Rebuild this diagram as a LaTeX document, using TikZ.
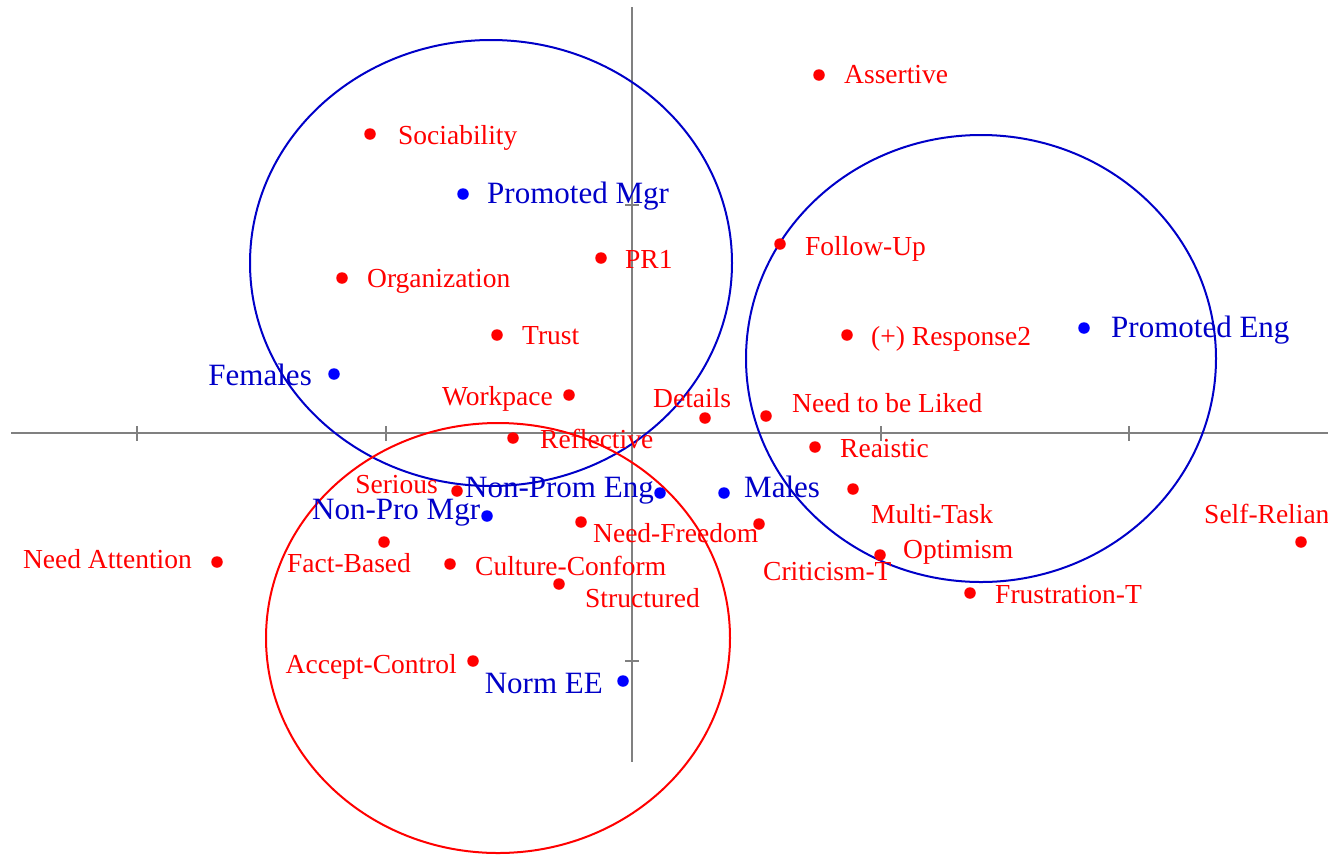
\documentclass[tikz,border=0pt]{standalone}
\usepackage{fontspec}
\setmainfont{Liberation Serif}
\definecolor{ptred}{RGB}{255,0,0}
\definecolor{ptblue}{RGB}{0,0,255}
\definecolor{txblue}{RGB}{0,0,200}
\definecolor{ringblue}{RGB}{0,0,200}
\definecolor{axisgray}{RGB}{128,128,128}
\newcommand\labred{\fontsize{27.5}{31}\selectfont}
\newcommand\labblue{\fontsize{31}{35}\selectfont}
\tikzset{
  rdot/.style={circle, fill=ptred, inner sep=0pt, minimum size=11.5pt},
  bdot/.style={circle, fill=ptblue, inner sep=0pt, minimum size=11.5pt},
  rlab/.style={text=ptred, font=\labred, inner sep=0pt, anchor=base west},
  blab/.style={text=txblue, font=\labblue, inner sep=0pt, anchor=base west},
  axisline/.style={draw=axisgray, line width=2.5pt},
  ring/.style={line width=2pt},
}
\begin{document}
\begin{tikzpicture}[x=1pt, y=-1pt]
\useasboundingbox (0,0) rectangle (1328,855);
\clip (0,0) rectangle (1328,855);

% axes with tick marks
\coordinate (xl) at (11,433);
\coordinate (xr) at (1328,433);
\coordinate (yt) at (632,7);
\coordinate (yb) at (632,762);
\draw[axisline] (xl) -- (xr);
\draw[axisline] (yt) -- (yb);
\foreach \tx in {137,386,881,1129}
  \draw[axisline] (\tx,426) -- (\tx,441);
\foreach \ty in {205,661}
  \draw[axisline] (625,\ty) -- (639,\ty);

% cluster rings
\draw[ring, draw=ringblue] (491,263) ellipse [x radius=241, y radius=223];
\draw[ring, draw=ringblue] (981,358.5) ellipse [x radius=235, y radius=223.5];
\draw[ring, draw=ptred] (498,638) ellipse [x radius=232, y radius=215];

% attribute points
\node[rdot] (assertive) at (819,75) {};
\node[rlab] (assertiveL) at (844,83) {Assertive};
\node[rdot] (sociab) at (370,134) {};
\node[rlab] (sociabL) at (398,144) {Sociability};
\node[rdot] (pr1) at (601,258) {};
\node[rlab] (pr1L) at (625,268) {PR1};
\node[rdot] (follow) at (780,244) {};
\node[rlab] (followL) at (805,255) {Follow-Up};
\node[rdot] (organ) at (342,278) {};
\node[rlab] (organL) at (367,287) {Organization};
\node[rdot] (trust) at (497,335) {};
\node[rlab] (trustL) at (522,344) {Trust};
\node[rdot] (resp) at (847,335) {};
\node[rlab] (respL) at (871,345) {(+) Response2};
\node[rdot] (workp) at (569,395) {};
\node[rlab, anchor=base east] (workpL) at (553,405) {Workpace};
\node[rdot] (details) at (705,418) {};
\node[rlab] (detailsL) at (653,407) {Details};
\node[rdot] (liked) at (766,416) {};
\node[rlab] (likedL) at (792,412) {Need to be Liked};
\node[rdot] (reflect) at (513,438) {};
\node[rlab] (reflectL) at (540,448) {Reflective};
\node[rdot] (realist) at (815,447) {};
\node[rlab] (realistL) at (840,457) {Reaistic};
\node[rdot] (serious) at (457,491) {};
\node[rlab, anchor=base east] (seriousL) at (438,493) {Serious};
\node[rdot] (multi) at (853,489) {};
\node[rlab] (multiL) at (871,523) {Multi-Task};
\node[rdot] (freedom) at (581,522) {};
\node[rlab] (freedomL) at (593,542) {Need-Freedom};
\node[rdot] (critic) at (759,524) {};
\node[rlab] (criticL) at (763,580) {Criticism-T};
\node[rdot] (attent) at (217,562) {};
\node[rlab, anchor=base east] (attentL) at (192,568) {Need Attention};
\node[rdot] (fact) at (384,542) {};
\node[rlab] (factL) at (287,572) {Fact-Based};
\node[rdot] (culture) at (450,564) {};
\node[rlab] (cultureL) at (475,575) {Culture-Conform};
\node[rdot] (struct) at (559,584) {};
\node[rlab] (structL) at (585,607) {Structured};
\node[rdot] (optim) at (880,555) {};
\node[rlab] (optimL) at (903,558) {Optimism};
\node[rdot] (frustr) at (970,593) {};
\node[rlab] (frustrL) at (995,603) {Frustration-T};
\node[rdot] (selfrel) at (1301,542) {};
\node[rlab] (selfrelL) at (1204,523) {Self-Reliance};
\node[rdot] (accept) at (473,661) {};
\node[rlab, anchor=base east] (acceptL) at (457,673) {Accept-Control};

% group points
\node[bdot] (pmgr) at (463,194) {};
\node[blab] (pmgrL) at (487,203) {Promoted Mgr};
\node[bdot] (peng) at (1084,328) {};
\node[blab] (pengL) at (1111,337) {Promoted Eng};
\node[bdot] (fem) at (334,374) {};
\node[blab, anchor=base east] (femL) at (312,385) {Females};
\node[bdot] (npeng) at (660,493) {};
\node[blab] (npengL) at (465,497) {Non-Prom Eng};
\node[bdot] (males) at (724,493) {};
\node[blab] (malesL) at (744,497) {Males};
\node[bdot] (npmgr) at (487,516) {};
\node[blab] (npmgrL) at (312,519) {Non-Pro Mgr};
\node[bdot] (norm) at (623,681) {};
\node[blab, anchor=base east] (normL) at (603,693) {Norm EE};
\end{tikzpicture}
\end{document}
